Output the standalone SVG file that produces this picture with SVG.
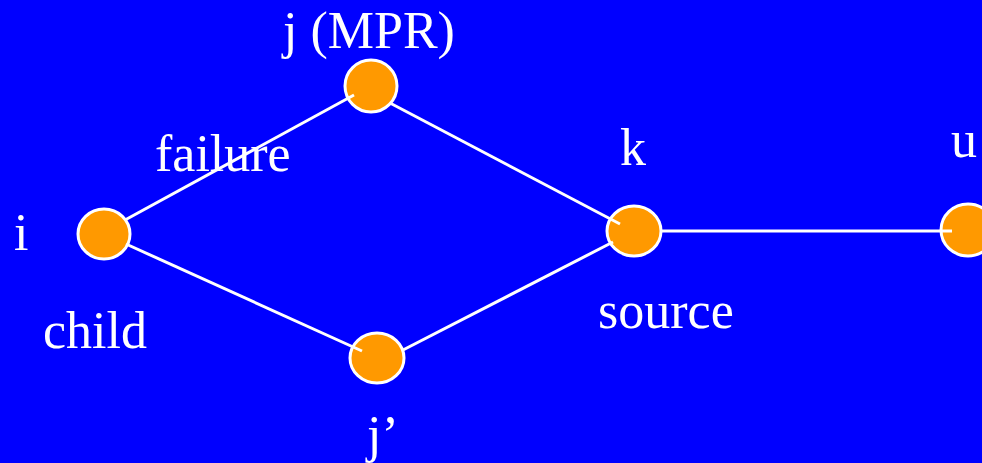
<svg xmlns="http://www.w3.org/2000/svg" width="982" height="463" viewBox="0 0 982 463">
<style>
.node{fill:#FF9900;stroke:#FFFFFF;stroke-width:3}
.edge{stroke:#FFFFFF;stroke-width:3;fill:none}
.lbl{font-family:"Liberation Serif","Times New Roman",serif;font-size:52px;fill:#FFFFFF}
</style>
<rect x="0" y="0" width="982" height="463" fill="#0000FF"/>
<g id="node-i"><ellipse class="node" cx="104" cy="234" rx="26" ry="25"/></g>
<g id="node-j"><ellipse class="node" cx="371" cy="86" rx="26" ry="26"/></g>
<g id="node-k"><ellipse class="node" cx="634" cy="231" rx="27" ry="25"/></g>
<g id="node-jp"><ellipse class="node" cx="377" cy="358" rx="27" ry="25"/></g>
<g id="node-u"><ellipse class="node" cx="968" cy="230" rx="27" ry="26"/></g>
<g id="connectors">
<line class="edge" x1="125" y1="220" x2="354" y2="95"/>
<line class="edge" x1="390" y1="103" x2="620" y2="224"/>
<line class="edge" x1="126" y1="244" x2="362" y2="351"/>
<line class="edge" x1="403" y1="350" x2="613" y2="242"/>
<line class="edge" x1="660" y1="231" x2="952" y2="231"/>
</g>
<g id="labels">
<text class="lbl" x="283" y="48">j (MPR)</text>
<text class="lbl" x="155" y="171">failure</text>
<text class="lbl" x="14" y="250">i</text>
<text class="lbl" x="43" y="348">child</text>
<text class="lbl" x="620" y="165">k</text>
<text class="lbl" x="598" y="328">source</text>
<text class="lbl" x="367" y="452">j’</text>
<text class="lbl" x="951" y="157">u</text>
</g>
</svg>
